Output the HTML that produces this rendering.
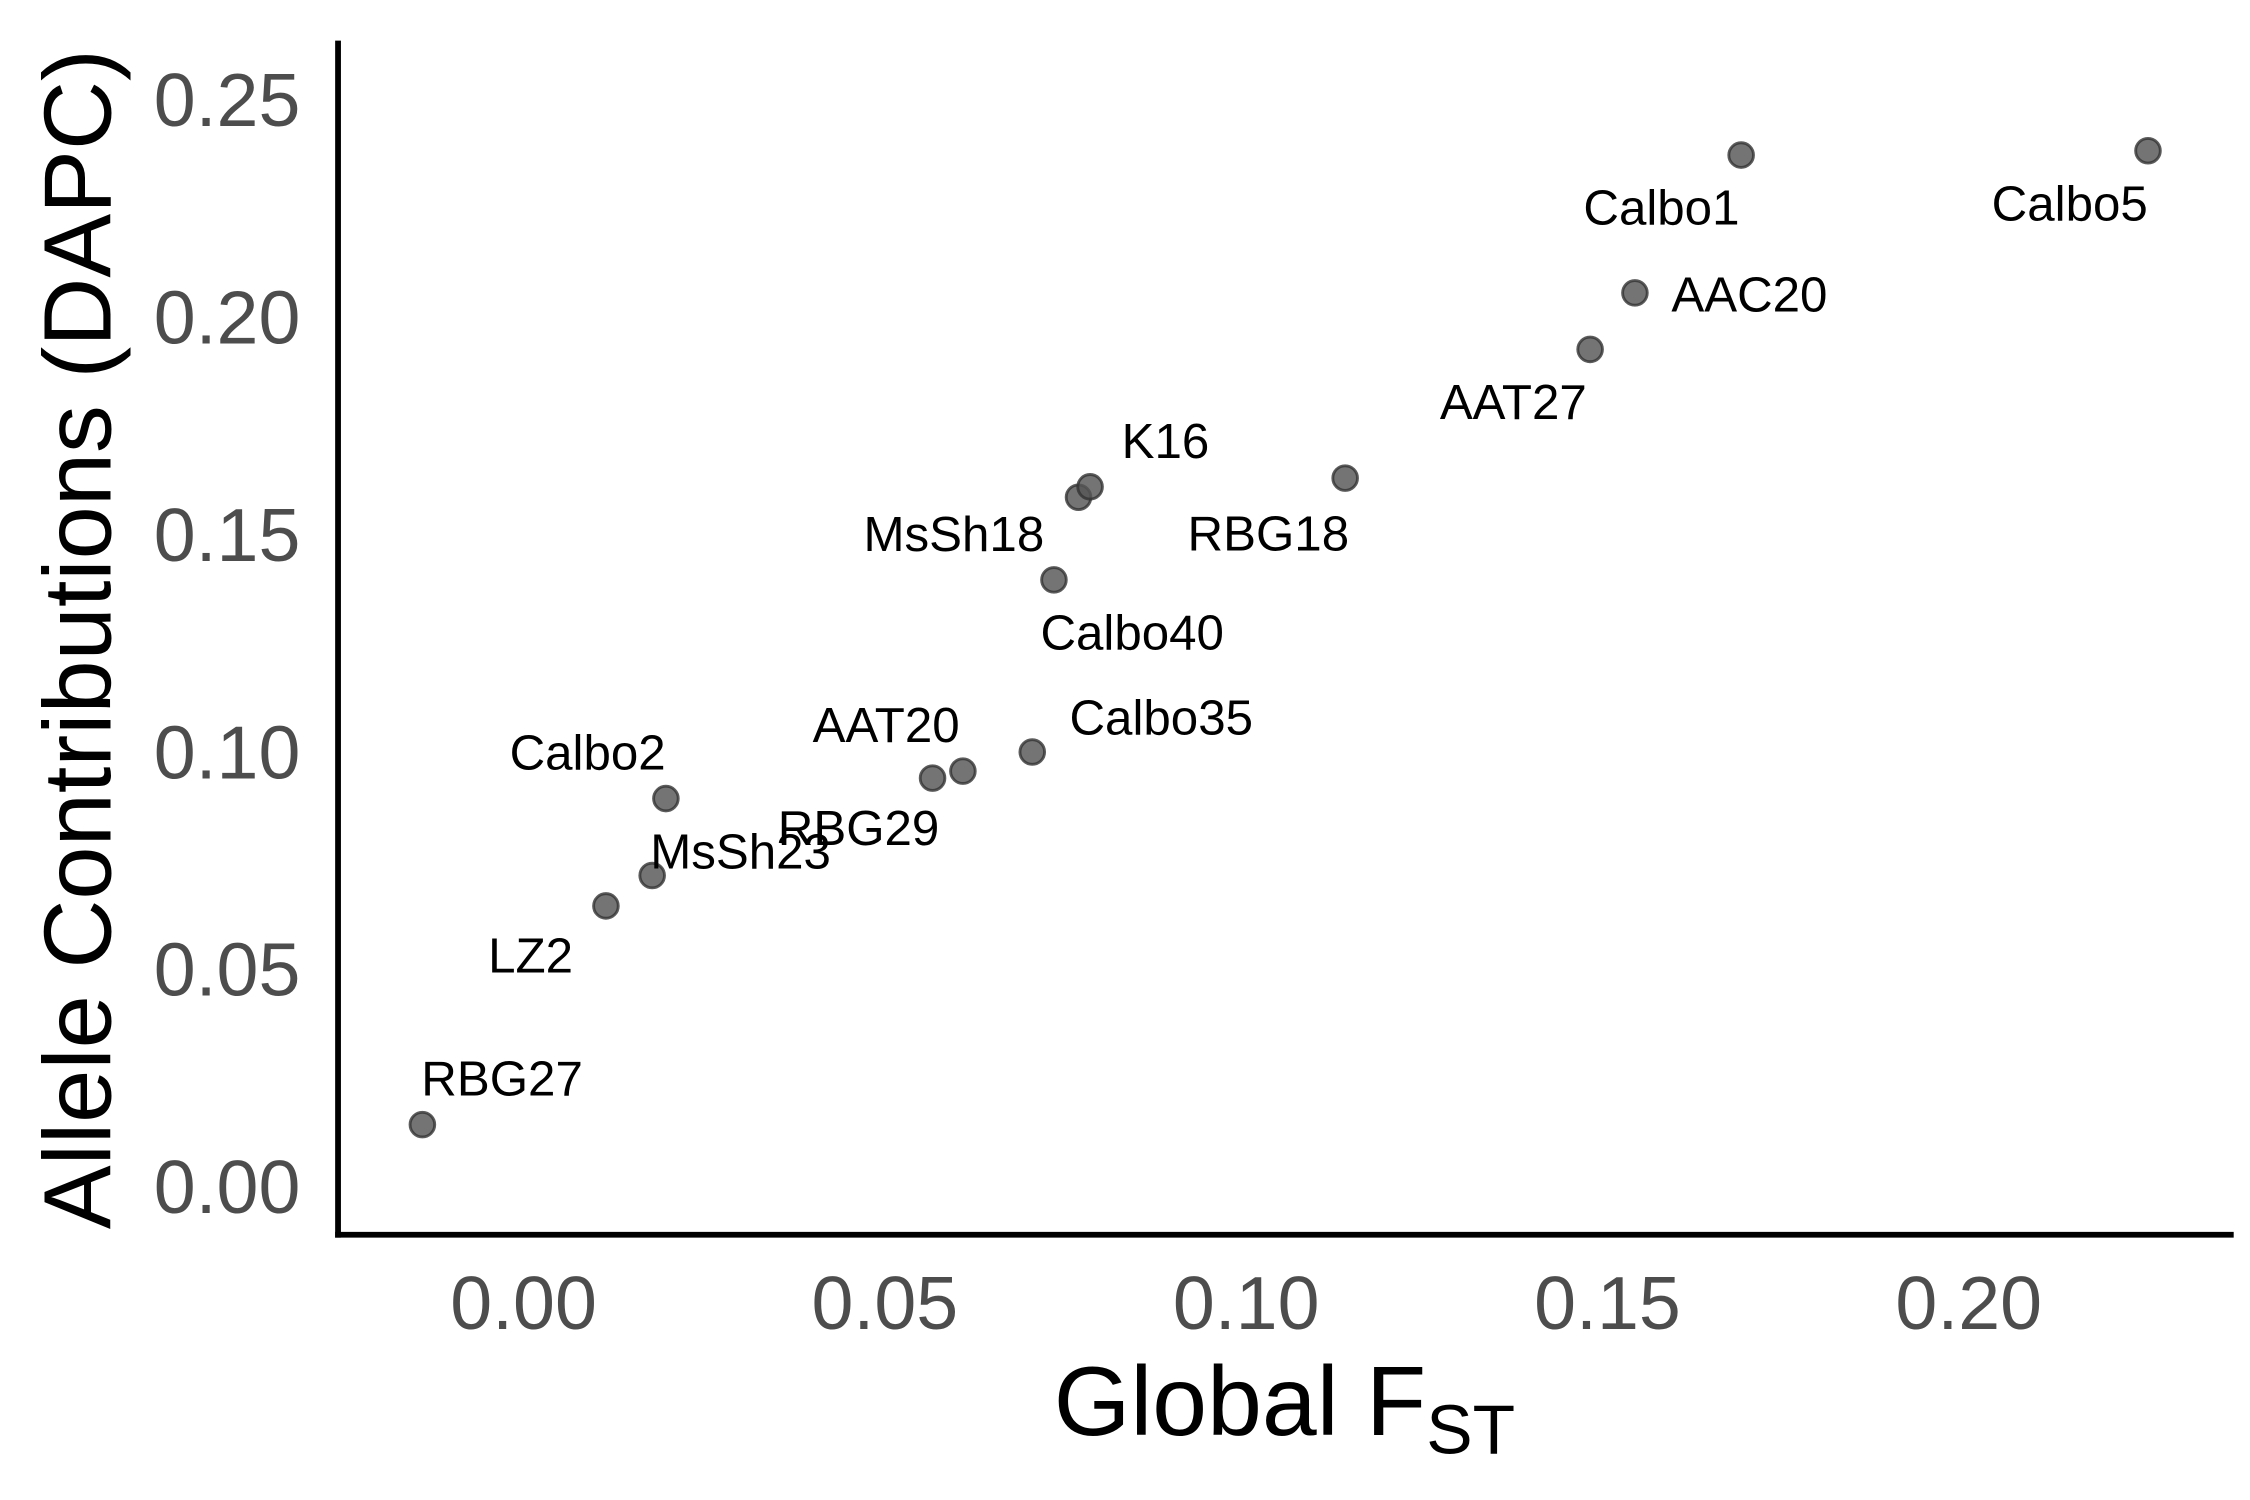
<!DOCTYPE html>
<html><head><meta charset="utf-8"><style>
html,body{margin:0;padding:0;background:#fff}
svg{display:block;font-family:"Liberation Sans",sans-serif}
</style></head><body>
<svg id="chart" width="2250" height="1500" viewBox="0 0 1552 1035" xmlns="http://www.w3.org/2000/svg">
<rect width="1552" height="1035" fill="#fff"/>
<g id="axes"></g>
<g id="points"></g>
<g id="labels"></g>
</svg>
<script>
const markers = ["RBG27","LZ2","MsSh23","Calbo2","AAT20","RBG29","Calbo35","Calbo40","MsSh18","K16","RBG18","AAT27","AAC20","Calbo1","Calbo5"];
const fstValues = [-0.0140,0.0114,0.0178,0.0197,0.0566,0.0608,0.0704,0.0734,0.0768,0.0784,0.1137,0.1476,0.1538,0.1685,0.2248];
const dapcValues = [0.0140,0.0643,0.0713,0.0890,0.0937,0.0953,0.0997,0.1393,0.1583,0.1607,0.1627,0.1923,0.2053,0.2370,0.2380];
const xTicks = [0,0.05,0.10,0.15,0.20];
const xTickLabels = ["0.00","0.05","0.10","0.15","0.20"];
const yTicks = [0,0.05,0.10,0.15,0.20,0.25];
const yTickLabels = ["0.00","0.05","0.10","0.15","0.20","0.25"];
// label offsets (layout, px relative to point)
const labelDx = [55,-52,61,-54,-32,-72,89,54,-86,52,-53,-53,79,-55,-54];
const labelDy = [-32,34,-17,-32,-37,39,-24,36,25,-32,38,36,1,36,36];

const NS="http://www.w3.org/2000/svg";
function xs(v){return 361+v*4986;}
function ys(v){return 818-v*3000;}
function mk(tag,attrs,parent,text){const e=document.createElementNS(NS,tag);for(const k in attrs)e.setAttribute(k,attrs[k]);if(text!==undefined)e.textContent=text;parent.appendChild(e);return e;}
const axes=document.getElementById('axes');
let yl=mk('line',{x1:233,y1:28,x2:233,y2:854,stroke:'#000','stroke-width':4},axes);


let xl=mk('line',{x1:231,y1:852,x2:1541,y2:852,stroke:'#000','stroke-width':4},axes);


xTicks.forEach((t,i)=>{
  const e=mk('text',{x:xs(t),y:917,'text-anchor':'middle','font-size':52,fill:'#4d4d4d'},axes,xTickLabels[i]);
  
  
});
yTicks.forEach((t,i)=>{
  const e=mk('text',{x:207,y:ys(t)+19,'text-anchor':'end','font-size':52,fill:'#4d4d4d'},axes,yTickLabels[i]);
  
  
});
const xt=mk('text',{x:886,y:990,'text-anchor':'middle','font-size':68,fill:'#000'},axes);


xt.innerHTML='Global F<tspan dy="13" font-size="48">ST</tspan>';
const yt=mk('text',{x:0,y:0,transform:'translate(76,441) rotate(-90)','text-anchor':'middle','font-size':66,fill:'#000'},axes,'Allele Contributions (DAPC)');


const pts=document.getElementById('points'), lbs=document.getElementById('labels');
markers.forEach((m,i)=>{
  const cx=xs(fstValues[i]), cy=ys(dapcValues[i]);
  const c=mk('circle',{cx:cx,cy:cy,r:8.5,fill:'#555','fill-opacity':0.82,stroke:'#333','stroke-width':2,'stroke-opacity':0.8},pts);
  
  
  const t=mk('text',{x:cx+labelDx[i],y:cy+labelDy[i]+12,'text-anchor':'middle','font-size':34,fill:'#000'},lbs,m);
  
  
});
</script>
</body></html>
